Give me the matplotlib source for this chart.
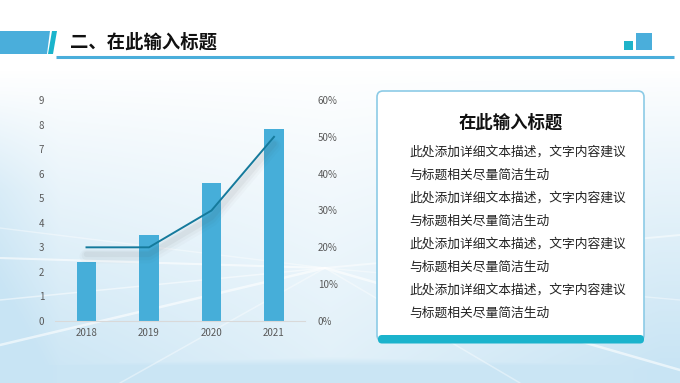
import numpy as np
import matplotlib
matplotlib.use("Agg")
import matplotlib.pyplot as plt
from matplotlib.patches import Polygon, Rectangle, FancyBboxPatch
from matplotlib.ticker import FuncFormatter
import matplotlib.transforms as mtransforms

plt.rcParams['font.family'] = ['Noto Sans CJK SC', 'DejaVu Sans']

# ---- data ----
years = ["2018", "2019", "2020", "2021"]
bar_values = [2.4, 3.5, 5.6, 7.8]
rate_values = [0.20, 0.20, 0.30, 0.50]
left_ticks = [0, 1, 2, 3, 4, 5, 6, 7, 8, 9]
right_ticks = [0.0, 0.1, 0.2, 0.3, 0.4, 0.5, 0.6]
header_title = "二、在此输入标题"
box_title = "在此输入标题"
box_lines = ["此处添加详细文本描述，文字内容建议", "与标题相关尽量简洁生动"] * 4

W, H = 680, 383
fig = plt.figure(figsize=(W / 100, H / 100), dpi=100)

# ---- background ----
bg = fig.add_axes([0, 0, 1, 1])
bg.set_xlim(0, W)
bg.set_ylim(H, 0)
bg.axis('off')
yy, xx = np.mgrid[0:H, 0:W]
a = np.clip((yy - 70) / 300.0, 0, 1) ** 0.9
a = a * (0.55 + 0.45 * np.clip(np.abs(xx - 330) / 330.0, 0, 1))
a = np.maximum(a, np.clip((yy - 345) / 20.0, 0, 1) * 0.95)
a = np.clip(a + 0.25 * np.clip((60 - xx) / 60.0, 0, 1) * np.clip((yy - 90) / 100, 0, 1), 0, 1)
blue = np.array([200, 228, 244]) / 255.0
img = (1 - a[..., None]) * 1.0 + a[..., None] * blue
bg.imshow(img, extent=[0, W, H, 0], aspect='auto', zorder=0)

# light rays
fx, fy = 325, 268
for ex, ey, lw, al in [(0, 258, 1.5, 0.6), (0, 300, 1.1, 0.5), (0, 345, 1.8, 0.6),
                       (0, 228, 1.0, 0.4), (120, 383, 1.1, 0.4), (680, 235, 1.4, 0.5),
                       (680, 300, 1.0, 0.4), (680, 370, 1.8, 0.6), (520, 383, 1.1, 0.4)]:
    bg.plot([fx, ex], [fy, ey], color='white', lw=lw, alpha=al, zorder=1,
            solid_capstyle='round')

# ---- header ----
bg.add_patch(Polygon([[0, 31], [50, 31], [47, 54], [0, 54]], closed=True,
                     facecolor='#4aaedb', edgecolor='none', zorder=3))
bg.add_patch(Polygon([[52, 31], [57, 31], [53, 54], [48, 54]], closed=True,
                     facecolor='#1ab4cc', edgecolor='none', zorder=3))
bg.plot([56, 674], [56.5, 56.5], color='#4aaedb', lw=2.2, zorder=3, solid_capstyle='butt')
bg.add_patch(Rectangle((624, 41), 9, 9, facecolor='#1fb3c9', edgecolor='none', zorder=3))
bg.add_patch(Rectangle((636, 33), 16, 17, facecolor='#4aaedb', edgecolor='none', zorder=3))
bg.text(70, 42, header_title, fontsize=13.2, fontweight='bold', color='#111111',
        ha='left', va='center', zorder=4)

# ---- text box ----
bg.add_patch(FancyBboxPatch((380, 94), 261, 246, boxstyle="round,pad=3,rounding_size=6",
                            facecolor='#000000', edgecolor='none', alpha=0.06, zorder=2))
bg.add_patch(FancyBboxPatch((380, 94), 261, 244, boxstyle="round,pad=3,rounding_size=6",
                            facecolor='white', edgecolor='#8ccbe6', lw=1.2, zorder=3))
bg.add_patch(FancyBboxPatch((381, 338), 260, 2.5, boxstyle="round,pad=3,rounding_size=4",
                            facecolor='#1bb3cc', edgecolor='none', zorder=4))
bg.text(511, 123, box_title, fontsize=12.5, fontweight='bold', color='#111111',
        ha='center', va='center', zorder=5)
line_y = [152, 175, 198, 221, 244, 267, 290, 313]
for ty, s in zip(line_y, box_lines):
    bg.text(409, ty, s, fontsize=9.2, color='#222222', ha='left', va='center', zorder=5)

# ---- chart ----
ax = fig.add_axes([55.25 / W, 1 - 321 / H, 250 / W, 221 / H])
ax.patch.set_alpha(0)
x = np.arange(len(years))
ax.bar(x, bar_values, width=0.31, color='#46aed9', zorder=2)
ax.set_xlim(-0.5, len(years) - 0.5)
ax.set_ylim(0, 9)
ax.set_yticks(left_ticks)
ax.set_xticks(x)
ax.set_xticklabels(years)
for s in ['top', 'left', 'right']:
    ax.spines[s].set_visible(False)
ax.spines['bottom'].set_color('#d9d9d9')
ax.spines['bottom'].set_linewidth(0.8)
ax.tick_params(axis='both', length=0, labelsize=7, labelcolor='#595959')
ax.tick_params(axis='y', pad=8)
ax.tick_params(axis='x', pad=5)

ax2 = ax.twinx()
ax2.set_ylim(0, 0.6)
ax2.set_yticks(right_ticks)
ax2.yaxis.set_major_formatter(FuncFormatter(lambda v, p: f"{v*100:.0f}%"))
for s in ['top', 'left', 'right', 'bottom']:
    ax2.spines[s].set_visible(False)
ax2.tick_params(axis='y', length=0, labelsize=7, labelcolor='#595959', pad=9)

# shadow for line
for lw, al, dy in [(10, 0.025, -9), (7, 0.035, -8), (4, 0.05, -7)]:
    tr = mtransforms.offset_copy(ax2.transData, fig=fig, x=0, y=dy, units='dots')
    ax2.plot(x, rate_values, color='#444444', lw=lw, alpha=al, transform=tr,
             solid_capstyle='round', solid_joinstyle='round', zorder=2)
ax2.plot(x, rate_values, color='#157a9c', lw=1.4, zorder=3, solid_joinstyle='round')

fig.savefig("out.png", dpi=100)
